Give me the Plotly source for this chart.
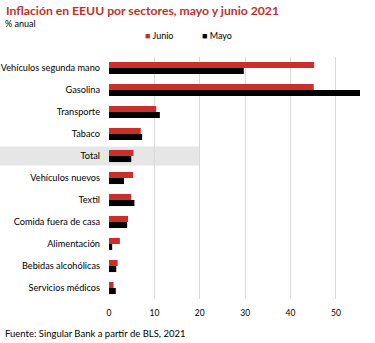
import plotly.graph_objects as go

# Categories, top to bottom
sectores = [
    "Vehículos segunda mano", "Gasolina", "Transporte", "Tabaco", "Total",
    "Vehículos nuevos", "Textil", "Comida fuera de casa", "Alimentación",
    "Bebidas alcohólicas", "Servicios médicos",
]
junio = [45.2, 45.1, 10.4, 7.0, 5.4, 5.3, 4.9, 4.2, 2.4, 1.9, 1.0]
mayo = [29.7, 56.2, 11.2, 7.3, 4.9, 3.3, 5.6, 4.0, 0.7, 1.6, 1.5]
x_ticks = [0, 10, 20, 30, 40, 50]

ROJO = "#c9302c"
NEGRO = "#000000"
FONT = "Lato"
X_MAX = 55.3

fig = go.Figure()
fig.add_trace(go.Bar(y=sectores, x=junio, name="Junio", orientation="h",
                     marker=dict(color=ROJO, line=dict(width=0))))
fig.add_trace(go.Bar(y=sectores, x=mayo, name="Mayo", orientation="h",
                     marker=dict(color=NEGRO, line=dict(width=0))))

L, R, T, B = 109, 15, 57, 44
W, H = 375, 343
plot_w = W - L - R
plot_h = H - T - B

# Grey band highlighting the "Total" row, from the left edge to x=20
i_total = sectores.index("Total")
fig.add_shape(type="rect", xref="paper", yref="y",
              x0=-L / plot_w, x1=20 / X_MAX,
              y0=i_total - 0.43, y1=i_total + 0.43,
              fillcolor="#e6e6e6", line=dict(width=0), layer="below")

fig.update_layout(
    width=W, height=H,
    margin=dict(l=L, r=R, t=T, b=B, autoexpand=False),
    paper_bgcolor="white", plot_bgcolor="rgba(0,0,0,0)",
    barmode="group", bargap=0.45, bargroupgap=0,
    showlegend=False,
    font=dict(family=FONT, size=9, color="#000"),
    xaxis=dict(range=[0, X_MAX], tickvals=x_ticks, showgrid=True,
               gridcolor="#d9d9d9", gridwidth=1, zeroline=False,
               showline=False, ticks="", ticklabelstandoff=7, automargin=False,
               tickfont=dict(size=8.5, color="#000")),
    yaxis=dict(autorange="reversed", showgrid=False, zeroline=False,
               showline=False, ticks="", ticklabelstandoff=8, automargin=False,
               tickfont=dict(size=9.2, color="#000")),
    annotations=[
        dict(text="<b>Inflación en EEUU por sectores, mayo y junio 2021</b>",
             xref="paper", yref="paper", x=-L / plot_w, xanchor="left",
             y=1 + (T - 10) / plot_h, yanchor="middle", showarrow=False,
             xshift=4, font=dict(size=12.2, color="#c0302a", family=FONT)),
        dict(text="% anual", xref="paper", yref="paper", x=-L / plot_w,
             xanchor="left", y=1 + (T - 23) / plot_h, yanchor="middle",
             showarrow=False, xshift=3, font=dict(size=9, color="#000")),
        dict(text=f"<span style='color:{ROJO}'>■</span> Junio",
             xref="paper", yref="paper", x=(143 - L) / plot_w, xanchor="left",
             y=1 + (T - 36) / plot_h, yanchor="middle", showarrow=False,
             font=dict(size=9, color="#000")),
        dict(text=f"<span style='color:{NEGRO}'>■</span> Mayo",
             xref="paper", yref="paper", x=(200 - L) / plot_w, xanchor="left",
             y=1 + (T - 36) / plot_h, yanchor="middle", showarrow=False,
             font=dict(size=9, color="#000")),
        dict(text="Fuente: Singular Bank a partir de BLS, 2021",
             xref="paper", yref="paper", x=-L / plot_w, xanchor="left",
             y=-(333 - (H - B)) / plot_h, yanchor="middle",
             showarrow=False, xshift=3, font=dict(size=9.5, color="#000")),
    ],
)

fig.write_html("out.html")
